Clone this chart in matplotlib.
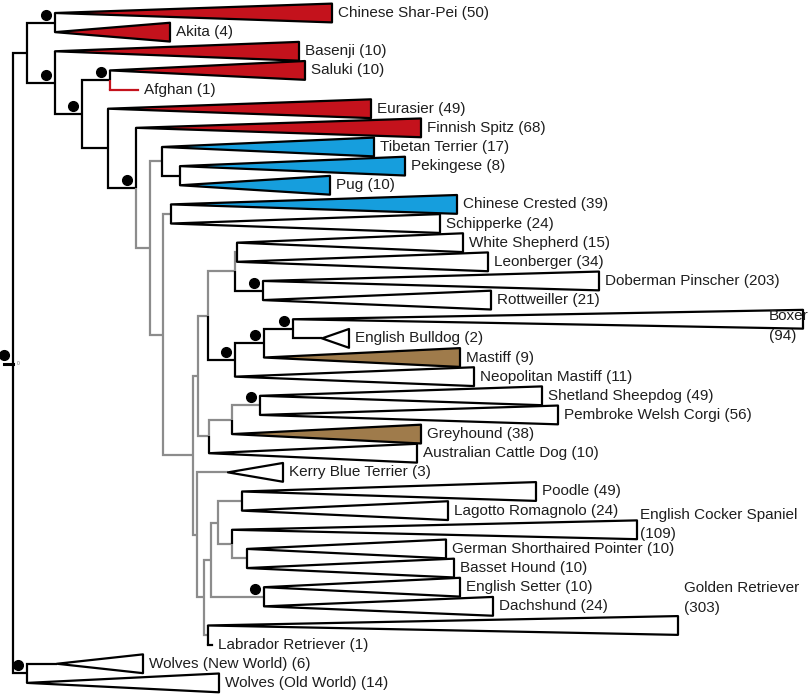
import matplotlib as mpl
mpl.use('Agg')
import matplotlib.pyplot as plt
from matplotlib.patches import Polygon

plt.rcParams['font.family'] = ['Liberation Sans', 'DejaVu Sans']

# collapsed clades, top to bottom
tip_names = ['Chinese Shar-Pei', 'Akita', 'Basenji', 'Saluki', 'Afghan', 'Eurasier',
             'Finnish Spitz', 'Tibetan Terrier', 'Pekingese', 'Pug', 'Chinese Crested',
             'Schipperke', 'White Shepherd', 'Leonberger', 'Doberman Pinscher', 'Rottweiller',
             'Boxer', 'English Bulldog', 'Mastiff', 'Neopolitan Mastiff', 'Shetland Sheepdog',
             'Pembroke Welsh Corgi', 'Greyhound', 'Australian Cattle Dog', 'Kerry Blue Terrier',
             'Poodle', 'Lagotto Romagnolo', 'English Cocker Spaniel', 'German Shorthaired Pointer',
             'Basset Hound', 'English Setter', 'Dachshund', 'Golden Retriever',
             'Labrador Retriever', 'Wolves (New World)', 'Wolves (Old World)']
tip_counts = [50, 4, 10, 10, 1, 49, 68, 17, 8, 10, 39, 24, 15, 34, 203, 21, 94, 2, 9, 11,
              49, 56, 38, 10, 3, 49, 24, 109, 10, 10, 10, 24, 303, 1, 6, 14]
# depth of the clade's own root and of its deepest member
tip_start = [55, 55, 55, 110, 110, 108, 136, 162, 180, 180, 171, 171, 237, 237, 263, 263,
             293, 322, 264, 235, 260, 260, 232, 209, 228, 242, 242, 232, 247, 247, 264, 264,
             208, 208, 57, 27]
tip_end = [332, 170, 299, 305, 138, 371, 421, 374, 405, 330, 457, 440, 463, 488, 599, 491,
           803, 349, 460, 474, 542, 558, 421, 417, 283, 536, 448, 637, 446, 454, 460, 493,
           678, 212, 143, 219]
red, blue, brown = '#c4121c', '#169edd', '#9f7b4b'
tip_fill = [red, red, red, red, red, red, red, blue, blue, blue, blue] + ['white'] * 7 + \
           [brown, 'white', 'white', 'white', brown] + ['white'] * 13

# internal nodes
node_depth = {'root': 13, 'wolves': 27, 'A': 27, 'B': 55, 'C': 55, 'E': 82, 'D': 110,
              'F': 108, 'G': 136, 'H': 150, 'I': 162, 'K': 180, 'J': 163, 'L': 171,
              'M': 193, 'N': 198, 'P': 208, 'R': 235, 'T': 237, 'U': 263, 'S': 235,
              'V': 264, 'W': 293, 'Q': 209, 'X': 232, 'Y': 260, 'O': 197, 'Z': 204,
              'AH': 211, 'AF': 218, 'AC': 242, 'AE': 232, 'AD': 247, 'AG': 264, 'AB': 208}
node_children = {
    'root': ('A', 'wolves'), 'wolves': ('Wolves (New World)', 'Wolves (Old World)'),
    'A': ('B', 'C'), 'B': ('Chinese Shar-Pei', 'Akita'), 'C': ('Basenji', 'E'),
    'E': ('D', 'F'), 'D': ('Saluki', 'Afghan'), 'F': ('Eurasier', 'G'),
    'G': ('Finnish Spitz', 'H'), 'H': ('I', 'J'), 'I': ('Tibetan Terrier', 'K'),
    'K': ('Pekingese', 'Pug'), 'J': ('L', 'M'), 'L': ('Chinese Crested', 'Schipperke'),
    'M': ('N', 'O'), 'N': ('P', 'Q'), 'P': ('R', 'S'), 'R': ('T', 'U'),
    'T': ('White Shepherd', 'Leonberger'), 'U': ('Doberman Pinscher', 'Rottweiller'),
    'S': ('V', 'Neopolitan Mastiff'), 'V': ('W', 'Mastiff'), 'W': ('Boxer', 'English Bulldog'),
    'Q': ('X', 'Australian Cattle Dog'), 'X': ('Y', 'Greyhound'),
    'Y': ('Shetland Sheepdog', 'Pembroke Welsh Corgi'), 'O': ('Kerry Blue Terrier', 'Z'),
    'Z': ('AH', 'AB'), 'AH': ('AF', 'AG'), 'AF': ('AC', 'AE'),
    'AC': ('Poodle', 'Lagotto Romagnolo'), 'AE': ('English Cocker Spaniel', 'AD'),
    'AD': ('German Shorthaired Pointer', 'Basset Hound'),
    'AG': ('English Setter', 'Dachshund'), 'AB': ('Golden Retriever', 'Labrador Retriever')}
supported = ['root', 'wolves', 'B', 'C', 'D', 'E', 'G', 'U', 'S', 'V', 'W', 'Y', 'AG']
grey_branches = ['H', 'I', 'J', 'L', 'M', 'N', 'P', 'R', 'T', 'Q', 'X', 'Y', 'O',
                 'Kerry Blue Terrier', 'Z', 'AH', 'AF', 'AC', 'AE', 'AD', 'AG', 'AB']
red_branches = ['Afghan']

tip_top, tip_step, half = 13, 19.14, 9.4
line_gap = 19.5
# labels that are wrapped onto two lines near the right edge: (x shift, y shift of first line)
wrapped = {'Boxer': (-34, -3), 'English Cocker Spaniel': (3, -15), 'Golden Retriever': (6, -37)}

fig = plt.figure(figsize=(8.12, 6.97), dpi=100)
ax = fig.add_axes([0, 0, 1, 1])
ax.set_xlim(0, 812)
ax.set_ylim(697, 0)
ax.axis('off')

tip_y = {n: tip_top + tip_step * i for i, n in enumerate(tip_names)}


def ypos(n):
    if n in tip_y:
        return tip_y[n]
    a, b = node_children[n]
    return (ypos(a) + ypos(b)) / 2


def xpos(n):
    if n in node_depth:
        return node_depth[n]
    return tip_start[tip_names.index(n)]


def colour(n):
    if n in grey_branches:
        return '#8c8c8c'
    if n in red_branches:
        return red
    return 'black'


lw = 1.6
for n, kids in node_children.items():
    x, y = node_depth[n], ypos(n)
    for c in kids:
        ax.plot([x, x, xpos(c)], [y, ypos(c), ypos(c)], color=colour(c), lw=lw,
                solid_capstyle='butt', solid_joinstyle='miter', zorder=2)

fs = 11
tcol = '#1e1e1e'
for i, n in enumerate(tip_names):
    y = tip_y[n]
    if tip_counts[i] == 1:
        ax.plot([tip_start[i], tip_end[i]], [y, y], color=colour(n), lw=lw, zorder=2)
    else:
        tri = Polygon([(tip_start[i], y), (tip_end[i], y - half), (tip_end[i], y + half)],
                      closed=True, facecolor=tip_fill[i], edgecolor='black', lw=lw,
                      joinstyle='round', zorder=3)
        ax.add_patch(tri)
    if n in wrapped:
        dx, dy = wrapped[n]
        ax.text(tip_end[i] + dx, y + dy, n, fontsize=fs, color=tcol, va='center', zorder=4)
        ax.text(tip_end[i] + dx, y + dy + line_gap, f'({tip_counts[i]})', fontsize=fs,
                color=tcol, va='center', zorder=4)
    else:
        ax.text(tip_end[i] + 6, y, f'{n} ({tip_counts[i]})', fontsize=fs, color=tcol,
                va='center', ha='left', zorder=4)

for n in supported:
    ax.plot(node_depth[n] - 9, ypos(n) - 8, 'o', color='black', markersize=7, zorder=5)

# root stub
rx, ry = node_depth['root'], ypos('root')
ax.plot([rx - 9, rx], [ry + 1, ry + 1], color='black', lw=lw + 0.6, zorder=2)
ax.text(rx + 4, ry + 1, '0', fontsize=3.5, color='#777777', va='center')

plt.savefig('out.png', dpi=100)
